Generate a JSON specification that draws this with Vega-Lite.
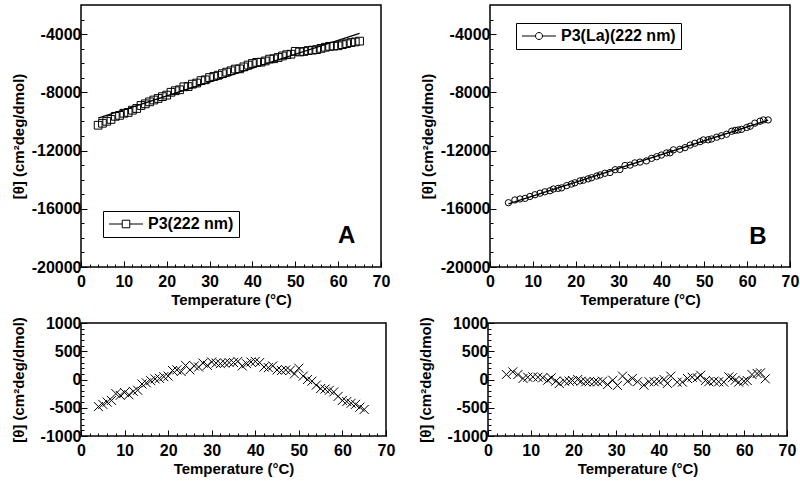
{
  "$schema": "https://vega.github.io/schema/vega-lite/v6.json",
  "background": "white",
  "padding": {"left": 10, "top": 4, "right": 0, "bottom": 0},
  "config": {
    "view": {"stroke": "black", "strokeWidth": 1.5},
    "font": "Liberation Sans",
    "axis": {
      "labelFont": "Liberation Sans", "labelFontWeight": "bold", "labelFontSize": 16, "labelColor": "black",
      "titleFont": "Liberation Sans", "titleFontWeight": "bold", "titleFontSize": 15, "titleColor": "black",
      "domain": false, "grid": false, "tickColor": "black", "tickWidth": 1,
      "labelFlush": false, "labelOverlap": false, "labelBound": false
    },
    "axisQuantitative": {"labelOverlap": false, "labelFlush": false},
    "axisX": {"labelPadding": 12, "titlePadding": 0},
    "axisY": {"labelPadding": 6},
    "legend": {
      "orient": "none", "title": null, "strokeColor": "black", "fillColor": "white",
      "padding": 5, "symbolSize": 196, "symbolStrokeWidth": 1, "symbolOffset": 10,
      "labelFont": "Liberation Sans", "labelFontWeight": "bold", "labelFontSize": 16, "labelColor": "black",
      "labelOffset": 14
    }
  },
  "datasets": {
    "A": [
      {"T":4,"theta":-10260,"series":"P3(222 nm)"},{"T":5,"theta":-10124,"series":"P3(222 nm)"},{"T":6,"theta":-9989,"series":"P3(222 nm)"},{"T":7,"theta":-9863,"series":"P3(222 nm)"},{"T":8,"theta":-9648,"series":"P3(222 nm)"},{"T":9,"theta":-9582,"series":"P3(222 nm)"},{"T":10,"theta":-9437,"series":"P3(222 nm)"},{"T":11,"theta":-9381,"series":"P3(222 nm)"},{"T":12,"theta":-9226,"series":"P3(222 nm)"},{"T":13,"theta":-9110,"series":"P3(222 nm)"},{"T":14,"theta":-8904,"series":"P3(222 nm)"},{"T":15,"theta":-8789,"series":"P3(222 nm)"},{"T":16,"theta":-8653,"series":"P3(222 nm)"},{"T":17,"theta":-8528,"series":"P3(222 nm)"},{"T":18,"theta":-8422,"series":"P3(222 nm)"},{"T":19,"theta":-8297,"series":"P3(222 nm)"},{"T":20,"theta":-8191,"series":"P3(222 nm)"},{"T":21,"theta":-7996,"series":"P3(222 nm)"},{"T":22,"theta":-7890,"series":"P3(222 nm)"},{"T":23,"theta":-7824,"series":"P3(222 nm)"},{"T":24,"theta":-7619,"series":"P3(222 nm)"},{"T":25,"theta":-7603,"series":"P3(222 nm)"},{"T":26,"theta":-7438,"series":"P3(222 nm)"},{"T":27,"theta":-7362,"series":"P3(222 nm)"},{"T":28,"theta":-7197,"series":"P3(222 nm)"},{"T":29,"theta":-7141,"series":"P3(222 nm)"},{"T":30,"theta":-6985,"series":"P3(222 nm)"},{"T":31,"theta":-6910,"series":"P3(222 nm)"},{"T":32,"theta":-6824,"series":"P3(222 nm)"},{"T":33,"theta":-6719,"series":"P3(222 nm)"},{"T":34,"theta":-6613,"series":"P3(222 nm)"},{"T":35,"theta":-6518,"series":"P3(222 nm)"},{"T":36,"theta":-6402,"series":"P3(222 nm)"},{"T":37,"theta":-6387,"series":"P3(222 nm)"},{"T":38,"theta":-6251,"series":"P3(222 nm)"},{"T":39,"theta":-6125,"series":"P3(222 nm)"},{"T":40,"theta":-6020,"series":"P3(222 nm)"},{"T":41,"theta":-5944,"series":"P3(222 nm)"},{"T":42,"theta":-5929,"series":"P3(222 nm)"},{"T":43,"theta":-5843,"series":"P3(222 nm)"},{"T":44,"theta":-5718,"series":"P3(222 nm)"},{"T":45,"theta":-5692,"series":"P3(222 nm)"},{"T":46,"theta":-5606,"series":"P3(222 nm)"},{"T":47,"theta":-5501,"series":"P3(222 nm)"},{"T":48,"theta":-5415,"series":"P3(222 nm)"},{"T":49,"theta":-5380,"series":"P3(222 nm)"},{"T":50,"theta":-5184,"series":"P3(222 nm)"},{"T":51,"theta":-5229,"series":"P3(222 nm)"},{"T":52,"theta":-5193,"series":"P3(222 nm)"},{"T":53,"theta":-5128,"series":"P3(222 nm)"},{"T":54,"theta":-5102,"series":"P3(222 nm)"},{"T":55,"theta":-5066,"series":"P3(222 nm)"},{"T":56,"theta":-4981,"series":"P3(222 nm)"},{"T":57,"theta":-4905,"series":"P3(222 nm)"},{"T":58,"theta":-4840,"series":"P3(222 nm)"},{"T":59,"theta":-4824,"series":"P3(222 nm)"},{"T":60,"theta":-4799,"series":"P3(222 nm)"},{"T":61,"theta":-4723,"series":"P3(222 nm)"},{"T":62,"theta":-4658,"series":"P3(222 nm)"},{"T":63,"theta":-4582,"series":"P3(222 nm)"},{"T":64,"theta":-4536,"series":"P3(222 nm)"},{"T":65,"theta":-4481,"series":"P3(222 nm)"}
    ],
    "Afit": [{"T":4,"theta":-9780},{"T":65,"theta":-3951}],
    "B": [
      {"T":4.3,"theta":-15584,"series":"P3(La)(222 nm)"},{"T":5.8,"theta":-15394,"series":"P3(La)(222 nm)"},{"T":7.0,"theta":-15327,"series":"P3(La)(222 nm)"},{"T":8.2,"theta":-15283,"series":"P3(La)(222 nm)"},{"T":9.3,"theta":-15156,"series":"P3(La)(222 nm)"},{"T":10.5,"theta":-15035,"series":"P3(La)(222 nm)"},{"T":11.7,"theta":-14928,"series":"P3(La)(222 nm)"},{"T":12.8,"theta":-14833,"series":"P3(La)(222 nm)"},{"T":14.0,"theta":-14761,"series":"P3(La)(222 nm)"},{"T":14.8,"theta":-14643,"series":"P3(La)(222 nm)"},{"T":15.9,"theta":-14599,"series":"P3(La)(222 nm)"},{"T":16.7,"theta":-14563,"series":"P3(La)(222 nm)"},{"T":17.9,"theta":-14408,"series":"P3(La)(222 nm)"},{"T":19.0,"theta":-14304,"series":"P3(La)(222 nm)"},{"T":19.8,"theta":-14216,"series":"P3(La)(222 nm)"},{"T":21.0,"theta":-14084,"series":"P3(La)(222 nm)"},{"T":21.8,"theta":-14038,"series":"P3(La)(222 nm)"},{"T":22.9,"theta":-13943,"series":"P3(La)(222 nm)"},{"T":23.7,"theta":-13867,"series":"P3(La)(222 nm)"},{"T":24.9,"theta":-13753,"series":"P3(La)(222 nm)"},{"T":25.7,"theta":-13677,"series":"P3(La)(222 nm)"},{"T":26.8,"theta":-13562,"series":"P3(La)(222 nm)"},{"T":28.0,"theta":-13508,"series":"P3(La)(222 nm)"},{"T":29.2,"theta":-13316,"series":"P3(La)(222 nm)"},{"T":30.3,"theta":-13304,"series":"P3(La)(222 nm)"},{"T":31.5,"theta":-13025,"series":"P3(La)(222 nm)"},{"T":32.7,"theta":-13001,"series":"P3(La)(222 nm)"},{"T":33.8,"theta":-12849,"series":"P3(La)(222 nm)"},{"T":35.0,"theta":-12793,"series":"P3(La)(222 nm)"},{"T":36.5,"theta":-12710,"series":"P3(La)(222 nm)"},{"T":37.7,"theta":-12536,"series":"P3(La)(222 nm)"},{"T":38.9,"theta":-12422,"series":"P3(La)(222 nm)"},{"T":40.0,"theta":-12307,"series":"P3(La)(222 nm)"},{"T":41.2,"theta":-12163,"series":"P3(La)(222 nm)"},{"T":42.0,"theta":-12157,"series":"P3(La)(222 nm)"},{"T":42.8,"theta":-11951,"series":"P3(La)(222 nm)"},{"T":44.3,"theta":-11915,"series":"P3(La)(222 nm)"},{"T":45.5,"theta":-11801,"series":"P3(La)(222 nm)"},{"T":46.7,"theta":-11622,"series":"P3(La)(222 nm)"},{"T":47.8,"theta":-11496,"series":"P3(La)(222 nm)"},{"T":49.0,"theta":-11391,"series":"P3(La)(222 nm)"},{"T":49.8,"theta":-11269,"series":"P3(La)(222 nm)"},{"T":50.9,"theta":-11259,"series":"P3(La)(222 nm)"},{"T":51.7,"theta":-11205,"series":"P3(La)(222 nm)"},{"T":52.9,"theta":-11081,"series":"P3(La)(222 nm)"},{"T":54.0,"theta":-10986,"series":"P3(La)(222 nm)"},{"T":55.2,"theta":-10879,"series":"P3(La)(222 nm)"},{"T":56.4,"theta":-10671,"series":"P3(La)(222 nm)"},{"T":57.2,"theta":-10612,"series":"P3(La)(222 nm)"},{"T":57.9,"theta":-10587,"series":"P3(La)(222 nm)"},{"T":58.7,"theta":-10546,"series":"P3(La)(222 nm)"},{"T":59.9,"theta":-10415,"series":"P3(La)(222 nm)"},{"T":60.7,"theta":-10327,"series":"P3(La)(222 nm)"},{"T":61.8,"theta":-10116,"series":"P3(La)(222 nm)"},{"T":63.0,"theta":-9984,"series":"P3(La)(222 nm)"},{"T":63.8,"theta":-9896,"series":"P3(La)(222 nm)"},{"T":64.9,"theta":-9898,"series":"P3(La)(222 nm)"}
    ],
    "Bfit": [{"T":4.3,"theta":-15671},{"T":64.9,"theta":-9910}],
    "C": [
      {"T":4,"r":-480},{"T":5,"r":-440},{"T":6,"r":-400},{"T":7,"r":-370},{"T":8,"r":-250},{"T":9,"r":-280},{"T":10,"r":-230},{"T":11,"r":-270},{"T":12,"r":-210},{"T":13,"r":-190},{"T":14,"r":-80},{"T":15,"r":-60},{"T":16,"r":-20},{"T":17,"r":10},{"T":18,"r":20},{"T":19,"r":50},{"T":20,"r":60},{"T":21,"r":160},{"T":22,"r":170},{"T":23,"r":140},{"T":24,"r":250},{"T":25,"r":170},{"T":26,"r":240},{"T":27,"r":220},{"T":28,"r":290},{"T":29,"r":250},{"T":30,"r":310},{"T":31,"r":290},{"T":32,"r":280},{"T":33,"r":290},{"T":34,"r":300},{"T":35,"r":300},{"T":36,"r":320},{"T":37,"r":240},{"T":38,"r":280},{"T":39,"r":310},{"T":40,"r":320},{"T":41,"r":300},{"T":42,"r":220},{"T":43,"r":210},{"T":44,"r":240},{"T":45,"r":170},{"T":46,"r":160},{"T":47,"r":170},{"T":48,"r":160},{"T":49,"r":100},{"T":50,"r":200},{"T":51,"r":60},{"T":52,"r":0},{"T":53,"r":-30},{"T":54,"r":-100},{"T":55,"r":-160},{"T":56,"r":-170},{"T":57,"r":-190},{"T":58,"r":-220},{"T":59,"r":-300},{"T":60,"r":-370},{"T":61,"r":-390},{"T":62,"r":-420},{"T":63,"r":-440},{"T":64,"r":-490},{"T":65,"r":-530}
    ],
    "D": [
      {"T":4.3,"r":88},{"T":5.8,"r":135},{"T":7.0,"r":88},{"T":8.2,"r":18},{"T":9.3,"r":40},{"T":10.5,"r":47},{"T":11.7,"r":40},{"T":12.8,"r":30},{"T":14.0,"r":-12},{"T":14.8,"r":30},{"T":15.9,"r":-30},{"T":16.7,"r":-70},{"T":17.9,"r":-30},{"T":19.0,"r":-30},{"T":19.8,"r":-18},{"T":21.0,"r":0},{"T":21.8,"r":-30},{"T":22.9,"r":-40},{"T":23.7,"r":-40},{"T":24.9,"r":-40},{"T":25.7,"r":-40},{"T":26.8,"r":-30},{"T":28.0,"r":-90},{"T":29.2,"r":-12},{"T":30.3,"r":-105},{"T":31.5,"r":60},{"T":32.7,"r":-30},{"T":33.8,"r":18},{"T":35.0,"r":-40},{"T":36.5,"r":-100},{"T":37.7,"r":-40},{"T":38.9,"r":-40},{"T":40.0,"r":-30},{"T":41.2,"r":0},{"T":42.0,"r":-70},{"T":42.8,"r":60},{"T":44.3,"r":-47},{"T":45.5,"r":-47},{"T":46.7,"r":18},{"T":47.8,"r":40},{"T":49.0,"r":30},{"T":49.8,"r":76},{"T":50.9,"r":-18},{"T":51.7,"r":-40},{"T":52.9,"r":-30},{"T":54.0,"r":-40},{"T":55.2,"r":-47},{"T":56.4,"r":47},{"T":57.2,"r":30},{"T":57.9,"r":-12},{"T":58.7,"r":-47},{"T":59.9,"r":-30},{"T":60.7,"r":-18},{"T":61.8,"r":88},{"T":63.0,"r":106},{"T":63.8,"r":118},{"T":64.9,"r":12}
    ]
  },
  "spacing": 6,
  "resolve": {"scale": {"color": "independent"}, "legend": {"color": "independent"}},
  "vconcat": [
    {
      "spacing": 28,
      "resolve": {"scale": {"color": "independent"}, "legend": {"color": "independent"}},
      "hconcat": [
        {
          "width": 300, "height": 262,
          "layer": [
            {
              "data": {"name": "Afit"},
              "mark": {"type": "line", "color": "black", "strokeWidth": 1.3},
              "encoding": {
                "x": {"field": "T", "type": "quantitative", "scale": {"domain": [0, 70]},
                  "axis": {"title": "Temperature (°C)", "labelOverlap": false, "labelFlush": false, "labelBound": false, "zindex": 1,
                    "values": [0,2,4,6,8,10,12,14,16,18,20,22,24,26,28,30,32,34,36,38,40,42,44,46,48,50,52,54,56,58,60,62,64,66,68,70],
                    "labelExpr": "datum.value % 10 === 0 ? datum.label : ''",
                    "tickSize": {"condition": {"test": "datum.value % 10 === 0", "value": -6}, "value": -3}}},
                "y": {"field": "theta", "type": "quantitative", "scale": {"domain": [-20000, -2000]},
                  "axis": {"title": "[θ] (cm²deg/dmol)", "titlePadding": 5, "labelOverlap": false, "labelFlush": false, "labelBound": false, "zindex": 1,
                    "values": [-20000,-19000,-18000,-17000,-16000,-15000,-14000,-13000,-12000,-11000,-10000,-9000,-8000,-7000,-6000,-5000,-4000,-3000],
                    "labelExpr": "datum.value % 4000 === 0 ? '' + datum.value : ''",
                    "tickSize": {"condition": {"test": "datum.value % 4000 === 0", "value": -6}, "value": -3}}}
              }
            },
            {
              "data": {"name": "A"},
              "mark": {"type": "point", "shape": "square", "filled": false, "size": 60, "strokeWidth": 1, "opacity": 1},
              "encoding": {
                "x": {"field": "T", "type": "quantitative",
                  "axis": {"title": "Temperature (°C)", "labelOverlap": false, "labelFlush": false, "labelBound": false, "zindex": 1,
                    "values": [0,2,4,6,8,10,12,14,16,18,20,22,24,26,28,30,32,34,36,38,40,42,44,46,48,50,52,54,56,58,60,62,64,66,68,70],
                    "labelExpr": "datum.value % 10 === 0 ? datum.label : ''",
                    "tickSize": {"condition": {"test": "datum.value % 10 === 0", "value": -6}, "value": -3}}},
                "y": {"field": "theta", "type": "quantitative",
                  "axis": {"title": "[θ] (cm²deg/dmol)", "titlePadding": 5, "labelOverlap": false, "labelFlush": false, "labelBound": false, "zindex": 1,
                    "values": [-20000,-19000,-18000,-17000,-16000,-15000,-14000,-13000,-12000,-11000,-10000,-9000,-8000,-7000,-6000,-5000,-4000,-3000],
                    "labelExpr": "datum.value % 4000 === 0 ? '' + datum.value : ''",
                    "tickSize": {"condition": {"test": "datum.value % 4000 === 0", "value": -6}, "value": -3}}},
                "color": {"field": "series", "type": "nominal", "scale": {"range": ["black"]},
                  "legend": {"legendX": 22, "legendY": 206, "symbolType": "M-2.43,0H-0.54M0.54,0H2.43M-0.54,-0.54H0.54V0.54H-0.54Z"}}
              }
            },
            {
              "data": {"values": [{"label": "A"}]},
              "mark": {"type": "text", "fontSize": 24, "fontWeight": "bold", "font": "Liberation Sans", "align": "center", "baseline": "alphabetic", "color": "black"},
              "encoding": {
                "x": {"datum": 62,
                  "axis": {"title": "Temperature (°C)", "labelOverlap": false, "labelFlush": false, "labelBound": false, "zindex": 1,
                    "values": [0,2,4,6,8,10,12,14,16,18,20,22,24,26,28,30,32,34,36,38,40,42,44,46,48,50,52,54,56,58,60,62,64,66,68,70],
                    "labelExpr": "datum.value % 10 === 0 ? datum.label : ''",
                    "tickSize": {"condition": {"test": "datum.value % 10 === 0", "value": -6}, "value": -3}}},
                "y": {"datum": -18350,
                  "axis": {"title": "[θ] (cm²deg/dmol)", "titlePadding": 5, "labelOverlap": false, "labelFlush": false, "labelBound": false, "zindex": 1,
                    "values": [-20000,-19000,-18000,-17000,-16000,-15000,-14000,-13000,-12000,-11000,-10000,-9000,-8000,-7000,-6000,-5000,-4000,-3000],
                    "labelExpr": "datum.value % 4000 === 0 ? '' + datum.value : ''",
                    "tickSize": {"condition": {"test": "datum.value % 4000 === 0", "value": -6}, "value": -3}}},
                "text": {"field": "label"}
              }
            }
          ]
        },
        {
          "width": 300, "height": 262,
          "layer": [
            {
              "data": {"name": "Bfit"},
              "mark": {"type": "line", "color": "black", "strokeWidth": 1.3},
              "encoding": {
                "x": {"field": "T", "type": "quantitative", "scale": {"domain": [0, 70]},
                  "axis": {"title": "Temperature (°C)", "labelOverlap": false, "labelFlush": false, "labelBound": false, "zindex": 1,
                    "values": [0,2,4,6,8,10,12,14,16,18,20,22,24,26,28,30,32,34,36,38,40,42,44,46,48,50,52,54,56,58,60,62,64,66,68,70],
                    "labelExpr": "datum.value % 10 === 0 ? datum.label : ''",
                    "tickSize": {"condition": {"test": "datum.value % 10 === 0", "value": -6}, "value": -3}}},
                "y": {"field": "theta", "type": "quantitative", "scale": {"domain": [-20000, -2000]},
                  "axis": {"title": "[θ] (cm²deg/dmol)", "titlePadding": 5, "labelOverlap": false, "labelFlush": false, "labelBound": false, "zindex": 1,
                    "values": [-20000,-19000,-18000,-17000,-16000,-15000,-14000,-13000,-12000,-11000,-10000,-9000,-8000,-7000,-6000,-5000,-4000,-3000],
                    "labelExpr": "datum.value % 4000 === 0 ? '' + datum.value : ''",
                    "tickSize": {"condition": {"test": "datum.value % 4000 === 0", "value": -6}, "value": -3}}}
              }
            },
            {
              "data": {"name": "B"},
              "mark": {"type": "point", "shape": "circle", "filled": false, "size": 40, "strokeWidth": 1, "opacity": 1},
              "encoding": {
                "x": {"field": "T", "type": "quantitative",
                  "axis": {"title": "Temperature (°C)", "labelOverlap": false, "labelFlush": false, "labelBound": false, "zindex": 1,
                    "values": [0,2,4,6,8,10,12,14,16,18,20,22,24,26,28,30,32,34,36,38,40,42,44,46,48,50,52,54,56,58,60,62,64,66,68,70],
                    "labelExpr": "datum.value % 10 === 0 ? datum.label : ''",
                    "tickSize": {"condition": {"test": "datum.value % 10 === 0", "value": -6}, "value": -3}}},
                "y": {"field": "theta", "type": "quantitative",
                  "axis": {"title": "[θ] (cm²deg/dmol)", "titlePadding": 5, "labelOverlap": false, "labelFlush": false, "labelBound": false, "zindex": 1,
                    "values": [-20000,-19000,-18000,-17000,-16000,-15000,-14000,-13000,-12000,-11000,-10000,-9000,-8000,-7000,-6000,-5000,-4000,-3000],
                    "labelExpr": "datum.value % 4000 === 0 ? '' + datum.value : ''",
                    "tickSize": {"condition": {"test": "datum.value % 4000 === 0", "value": -6}, "value": -3}}},
                "color": {"field": "series", "type": "nominal", "scale": {"range": ["black"]},
                  "legend": {"legendX": 26, "legendY": 18, "symbolType": "M-2.43,0H-0.5M0.5,0H2.43M0.5,0A0.5,0.5,0,1,1,-0.5,0A0.5,0.5,0,1,1,0.5,0Z"}}
              }
            },
            {
              "data": {"values": [{"label": "B"}]},
              "mark": {"type": "text", "fontSize": 24, "fontWeight": "bold", "font": "Liberation Sans", "align": "center", "baseline": "alphabetic", "color": "black"},
              "encoding": {
                "x": {"datum": 62.5,
                  "axis": {"title": "Temperature (°C)", "labelOverlap": false, "labelFlush": false, "labelBound": false, "zindex": 1,
                    "values": [0,2,4,6,8,10,12,14,16,18,20,22,24,26,28,30,32,34,36,38,40,42,44,46,48,50,52,54,56,58,60,62,64,66,68,70],
                    "labelExpr": "datum.value % 10 === 0 ? datum.label : ''",
                    "tickSize": {"condition": {"test": "datum.value % 10 === 0", "value": -6}, "value": -3}}},
                "y": {"datum": -18400,
                  "axis": {"title": "[θ] (cm²deg/dmol)", "titlePadding": 5, "labelOverlap": false, "labelFlush": false, "labelBound": false, "zindex": 1,
                    "values": [-20000,-19000,-18000,-17000,-16000,-15000,-14000,-13000,-12000,-11000,-10000,-9000,-8000,-7000,-6000,-5000,-4000,-3000],
                    "labelExpr": "datum.value % 4000 === 0 ? '' + datum.value : ''",
                    "tickSize": {"condition": {"test": "datum.value % 4000 === 0", "value": -6}, "value": -3}}},
                "text": {"field": "label"}
              }
            }
          ]
        }
      ]
    },
    {
      "spacing": 21,
      "hconcat": [
        {
          "width": 305, "height": 113,
          "layer": [
            {
              "mark": {"type": "rule", "color": "black", "strokeWidth": 1.3},
              "encoding": {
                "y": {"datum": 0, "type": "quantitative",
                  "axis": {"title": "[θ] (cm²deg/dmol)", "titlePadding": 14, "labelOverlap": false, "labelFlush": false, "labelBound": false, "zindex": 1,
                    "values": [-1000,-900,-800,-700,-600,-500,-400,-300,-200,-100,0,100,200,300,400,500,600,700,800,900,1000],
                    "labelExpr": "datum.value % 500 === 0 ? '' + datum.value : ''",
                    "tickSize": {"condition": {"test": "datum.value % 500 === 0", "value": -6}, "value": -3}}}
              }
            },
            {
              "data": {"name": "C"},
              "mark": {"type": "point", "shape": "M-1,-1L1,1M-1,1L1,-1", "filled": false, "size": 81, "strokeWidth": 1, "color": "black", "opacity": 1},
              "encoding": {
                "x": {"field": "T", "type": "quantitative", "scale": {"domain": [0, 70]},
                  "axis": {"title": "Temperature (°C)", "labelOverlap": false, "labelFlush": false, "labelBound": false, "zindex": 1,
                    "values": [0,2,4,6,8,10,12,14,16,18,20,22,24,26,28,30,32,34,36,38,40,42,44,46,48,50,52,54,56,58,60,62,64,66,68,70],
                    "labelExpr": "datum.value % 10 === 0 ? datum.label : ''",
                    "tickSize": {"condition": {"test": "datum.value % 10 === 0", "value": -6}, "value": -3}}},
                "y": {"field": "r", "type": "quantitative", "scale": {"domain": [-1000, 1000]},
                  "axis": {"title": "[θ] (cm²deg/dmol)", "titlePadding": 14, "labelOverlap": false, "labelFlush": false, "labelBound": false, "zindex": 1,
                    "values": [-1000,-900,-800,-700,-600,-500,-400,-300,-200,-100,0,100,200,300,400,500,600,700,800,900,1000],
                    "labelExpr": "datum.value % 500 === 0 ? '' + datum.value : ''",
                    "tickSize": {"condition": {"test": "datum.value % 500 === 0", "value": -6}, "value": -3}}}
              }
            }
          ]
        },
        {
          "width": 299, "height": 113,
          "layer": [
            {
              "mark": {"type": "rule", "color": "black", "strokeWidth": 1.3},
              "encoding": {
                "y": {"datum": 0, "type": "quantitative",
                  "axis": {"title": "[θ] (cm²deg/dmol)", "titlePadding": 14, "labelOverlap": false, "labelFlush": false, "labelBound": false, "zindex": 1,
                    "values": [-1000,-900,-800,-700,-600,-500,-400,-300,-200,-100,0,100,200,300,400,500,600,700,800,900,1000],
                    "labelExpr": "datum.value % 500 === 0 ? '' + datum.value : ''",
                    "tickSize": {"condition": {"test": "datum.value % 500 === 0", "value": -6}, "value": -3}}}
              }
            },
            {
              "data": {"name": "D"},
              "mark": {"type": "point", "shape": "M-1,-1L1,1M-1,1L1,-1", "filled": false, "size": 81, "strokeWidth": 1, "color": "black", "opacity": 1},
              "encoding": {
                "x": {"field": "T", "type": "quantitative", "scale": {"domain": [0, 70]},
                  "axis": {"title": "Temperature (°C)", "labelOverlap": false, "labelFlush": false, "labelBound": false, "zindex": 1,
                    "values": [0,2,4,6,8,10,12,14,16,18,20,22,24,26,28,30,32,34,36,38,40,42,44,46,48,50,52,54,56,58,60,62,64,66,68,70],
                    "labelExpr": "datum.value % 10 === 0 ? datum.label : ''",
                    "tickSize": {"condition": {"test": "datum.value % 10 === 0", "value": -6}, "value": -3}}},
                "y": {"field": "r", "type": "quantitative", "scale": {"domain": [-1000, 1000]},
                  "axis": {"title": "[θ] (cm²deg/dmol)", "titlePadding": 14, "labelOverlap": false, "labelFlush": false, "labelBound": false, "zindex": 1,
                    "values": [-1000,-900,-800,-700,-600,-500,-400,-300,-200,-100,0,100,200,300,400,500,600,700,800,900,1000],
                    "labelExpr": "datum.value % 500 === 0 ? '' + datum.value : ''",
                    "tickSize": {"condition": {"test": "datum.value % 500 === 0", "value": -6}, "value": -3}}}
              }
            }
          ]
        }
      ]
    }
  ]
}
